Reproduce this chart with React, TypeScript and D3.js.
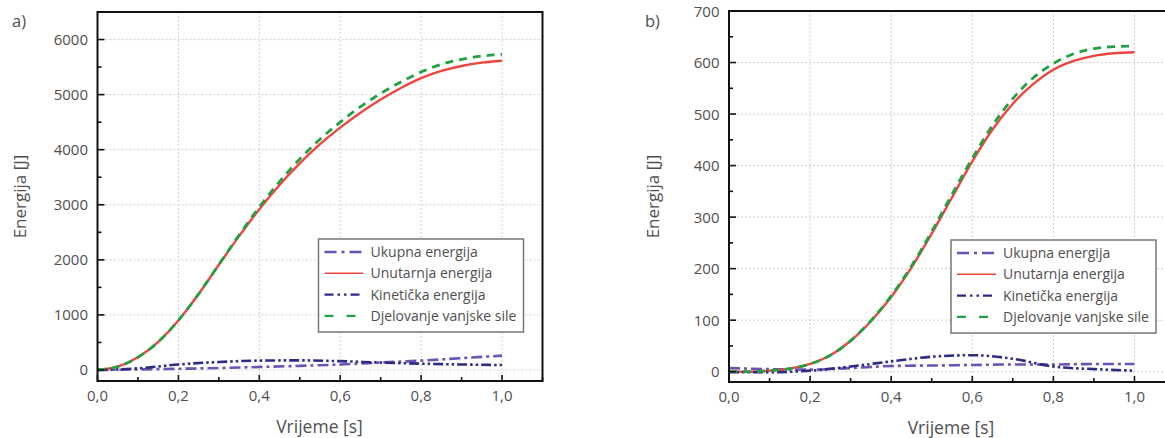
import React from "react";
import * as d3 from "d3";

// ---- data ----
const timeFine = [0, 0.05, 0.1, 0.15, 0.2, 0.25, 0.3, 0.35, 0.4, 0.45, 0.5, 0.55, 0.6, 0.65, 0.7, 0.75, 0.8, 0.85, 0.9, 0.95, 1.0];
const timeCoarse = [0, 0.1, 0.2, 0.3, 0.4, 0.5, 0.6, 0.7, 0.8, 0.9, 1.0];

const aUnutarnja = [0, 60, 230, 510, 900, 1380, 1910, 2430, 2920, 3360, 3750, 4100, 4400, 4670, 4910, 5120, 5300, 5430, 5520, 5580, 5615];
const aDjelovanje = [0, 60, 230, 510, 900, 1380, 1915, 2450, 2960, 3420, 3830, 4190, 4500, 4780, 5020, 5230, 5410, 5550, 5640, 5700, 5730];
const aKineticka = [0, 30, 100, 145, 170, 175, 160, 135, 115, 100, 90];
const aUkupna = [0, 10, 22, 35, 55, 75, 100, 135, 170, 215, 260];

const bUnutarnja = [0, 0, 2, 6, 15, 32, 60, 98, 145, 202, 268, 338, 408, 470, 520, 558, 586, 603, 613, 618, 620];
const bDjelovanje = [0, 0, 2, 6, 15, 32, 60, 99, 147, 205, 272, 344, 414, 478, 530, 570, 598, 617, 627, 631, 632];
const bKineticka = [-1, -1, 2, 10, 20, 29, 32, 25, 10, 5, 2];
const bUkupna = [7, 5, 4, 7, 11, 12, 13, 14, 14, 15, 15];

const xTicks = [0, 0.2, 0.4, 0.6, 0.8, 1.0];
const aYTicks = [0, 1000, 2000, 3000, 4000, 5000, 6000];
const bYTicks = [0, 100, 200, 300, 400, 500, 600, 700];

const legendLabels = ["Ukupna energija", "Unutarnja energija", "Kinetička energija", "Djelovanje vanjske sile"];

const FONT = "'Open Sans', 'Noto Sans', sans-serif";
const TEXT = "#4f4f4f";

const styles = [
  { color: "#6b52b5", dash: "11 4 3 4", width: 2.6 },
  { color: "#f0453d", dash: "", width: 2.4 },
  { color: "#2d2b86", dash: "10 3 2.5 3 2.5 3", width: 2.6 },
  { color: "#22a042", dash: "8 6", width: 2.8 },
];

type PanelProps = {
  id: string;
  tag: string;
  left: number;
  top: number;
  width: number;
  height: number;
  yDomain: [number, number];
  yTicks: number[];
  yMinorStep: number;
  series: { x: number[]; y: number[] }[];
  tagX: number;
  yLabelX: number;
};

function Panel(p: PanelProps) {
  const x = d3.scaleLinear().domain([0, 1.1]).range([p.left, p.left + p.width]);
  const y = d3.scaleLinear().domain(p.yDomain).range([p.top + p.height, p.top]);
  const bottom = p.top + p.height;
  const right = p.left + p.width;
  const fmtX = (v: number) => d3.format(".1f")(v).replace(".", ",");

  const minorX = d3.range(0, 1.1001, 0.1);
  const minorY: number[] = [];
  for (let v = Math.ceil(p.yDomain[0] / p.yMinorStep) * p.yMinorStep; v <= p.yDomain[1]; v += p.yMinorStep) minorY.push(v);

  const line = d3
    .line<[number, number]>()
    .x((d) => x(d[0]))
    .y((d) => y(d[1]))
    .curve(d3.curveMonotoneX);

  const lgW = 205;
  const lgH = 93;
  const lgX = right - 19 - lgW;
  const lgY = bottom - 49 - lgH;

  return (
    <g>
      <defs>
        <clipPath id={`clip-${p.id}`}>
          <rect x={p.left} y={p.top} width={p.width} height={p.height} />
        </clipPath>
      </defs>
      {/* grid */}
      {xTicks.map((t) => (
        <line key={"gx" + t} x1={x(t)} x2={x(t)} y1={p.top} y2={bottom} stroke="#cfcfcf" strokeWidth={1} strokeDasharray="2 2" />
      ))}
      {p.yTicks.map((t) => (
        <line key={"gy" + t} x1={p.left} x2={right} y1={y(t)} y2={y(t)} stroke="#cfcfcf" strokeWidth={1} strokeDasharray="2 2" />
      ))}
      {/* series */}
      <g clipPath={`url(#clip-${p.id})`}>
        {p.series.map((s, i) => (
          <path
            key={i}
            d={line(s.x.map((xv, j) => [xv, s.y[j]] as [number, number])) || ""}
            fill="none"
            stroke={styles[i].color}
            strokeWidth={styles[i].width}
            strokeDasharray={styles[i].dash || undefined}
          />
        ))}
      </g>
      {/* frame */}
      <rect x={p.left} y={p.top} width={p.width} height={p.height} fill="none" stroke="#111" strokeWidth={2} />
      {/* ticks */}
      {minorX.map((t, i) => (
        <line key={"tx" + i} x1={x(t)} x2={x(t)} y1={bottom} y2={bottom - (i % 2 === 0 ? 6 : 4)} stroke="#111" strokeWidth={1.6} />
      ))}
      {minorY.map((t, i) => {
        const major = p.yTicks.indexOf(Math.round(t)) >= 0;
        return <line key={"ty" + i} x1={p.left} x2={p.left + (major ? 7 : 4)} y1={y(t)} y2={y(t)} stroke="#111" strokeWidth={1.6} />;
      })}
      {/* tick labels */}
      {xTicks.map((t) => (
        <text key={"lx" + t} x={x(t)} y={bottom + 20} textAnchor="middle" fontFamily={FONT} fontSize={15} fill={TEXT}>
          {fmtX(t)}
        </text>
      ))}
      {p.yTicks.map((t) => (
        <text key={"ly" + t} x={p.left - 9.5} y={y(t) + 5.5} textAnchor="end" fontFamily={FONT} fontSize={15} fill={TEXT}>
          {t}
        </text>
      ))}
      {/* axis titles */}
      <text x={(p.left + p.left + 444) / 2} y={bottom + 52} textAnchor="middle" fontFamily={FONT} fontSize={17.5} fill={TEXT}>
        Vrijeme [s]
      </text>
      <text
        transform={`translate(${p.yLabelX},${(p.top + bottom) / 2}) rotate(-90)`}
        textAnchor="middle"
        fontFamily={FONT}
        fontSize={17}
        fill={TEXT}
      >
        Energija [J]
      </text>
      <text x={p.tagX} y={27} fontFamily={FONT} fontSize={16.5} fill={TEXT}>
        {p.tag}
      </text>
      {/* legend */}
      <rect x={lgX} y={lgY} width={lgW} height={lgH} fill="white" stroke="#777" strokeWidth={1.5} />
      {legendLabels.map((lab, i) => {
        const cy = lgY + 13 + i * 21.3;
        return (
          <g key={lab}>
            <line
              x1={lgX + 6}
              x2={lgX + 45}
              y1={cy}
              y2={cy}
              stroke={styles[i].color}
              strokeWidth={i === 1 ? 1.6 : 2.4}
              strokeDasharray={i === 3 ? "9 13" : i === 0 ? "12 5 3 5" : i === 2 ? "9 4 2.5 4 2.5 4" : undefined}
            />
            <text x={lgX + 52} y={cy + 5} fontFamily={FONT} fontSize={14} fill={TEXT}>
              {lab}
            </text>
          </g>
        );
      })}
    </g>
  );
}

export default function App() {
  const aSeries = [
    { x: timeCoarse, y: aUkupna },
    { x: timeFine, y: aUnutarnja },
    { x: timeCoarse, y: aKineticka },
    { x: timeFine, y: aDjelovanje },
  ];
  const bSeries = [
    { x: timeCoarse, y: bUkupna },
    { x: timeFine, y: bUnutarnja },
    { x: timeCoarse, y: bKineticka },
    { x: timeFine, y: bDjelovanje },
  ];
  return (
    <svg width={1165} height={438} style={{ position: "absolute", left: 0, top: 0, background: "white" }}>
      <Panel
        id="a"
        tag="a)"
        left={97.5}
        top={12}
        width={445}
        height={369}
        yDomain={[-200, 6500]}
        yTicks={aYTicks}
        yMinorStep={500}
        series={aSeries}
        tagX={12}
        yLabelX={26}
      />
      <Panel
        id="b"
        tag="b)"
        left={729}
        top={11}
        width={446}
        height={371}
        yDomain={[-20, 700]}
        yTicks={bYTicks}
        yMinorStep={50}
        series={bSeries}
        tagX={645}
        yLabelX={659}
      />
    </svg>
  );
}
